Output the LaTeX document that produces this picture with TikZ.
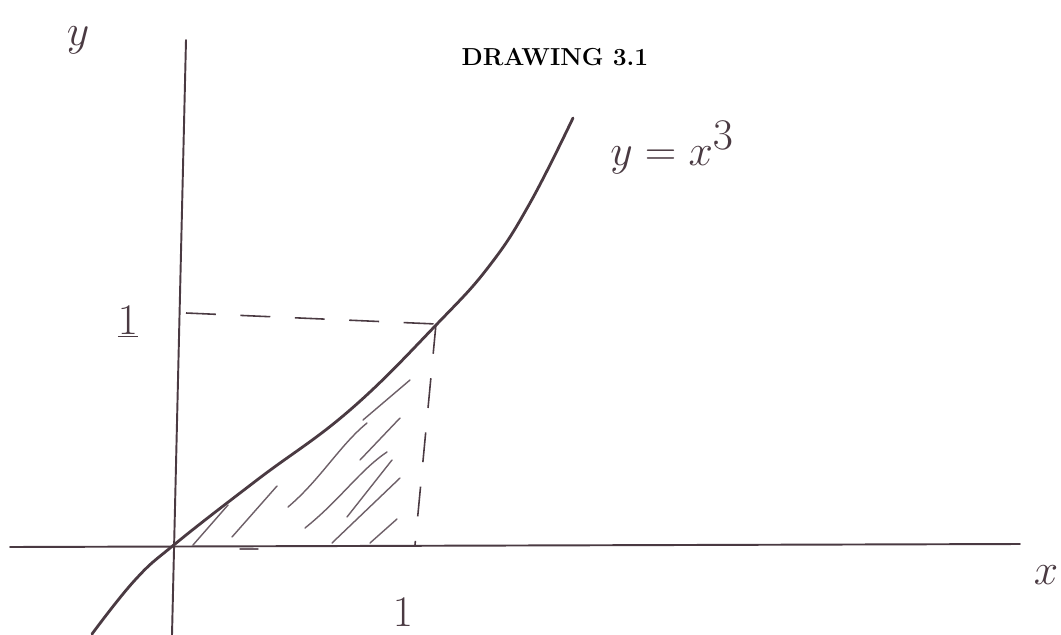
\documentclass[tikz,border=0pt]{standalone}
\usepackage{tikz}
\usetikzlibrary{arrows.meta,calc}
\definecolor{ink}{HTML}{4A3A42}
\definecolor{pencil}{HTML}{6E6068}
\begin{document}
\begin{tikzpicture}[x=0.02cm,y=-0.02cm,
 axis/.style={draw=ink,line width=1.1pt,line cap=round},
 graph/.style={draw=ink,line width=1.6pt,line cap=round},
 hatch/.style={draw=pencil,line width=0.8pt,line cap=round},
 guide/.style={draw=ink,line width=0.9pt,dash pattern=on 17pt off 14pt},
 hand/.style={text=ink,inner sep=0pt,font=\fontsize{34}{34}\selectfont}]
 \useasboundingbox[fill=white] (0,0) rectangle (1061,635);
 % axes
 \draw[axis] (186,40) -- (172,635);
 \draw[axis] (10,547) -- (1020,544);
 % the cubic
 \draw[graph] plot[smooth,tension=0.7] coordinates {(92,634) (135,580) (175,544) (257,480) (350,410) (438,323) (490,265) (530,203) (573,118)};
 % guides to the point (1,1)
 \coordinate (p) at (436,324);
 \draw[guide] (186,313) -- (p);
 \draw[guide] (p) -- (415,545);
 % hatching of the area
 \draw[hatch] (193,545) -- (228,505);
 \draw[hatch] (232,537) -- (277,486);
 \draw[hatch] (288,507) .. controls (320,480) and (340,445) .. (367,423);
 \draw[hatch] (305,528) .. controls (340,500) and (360,470) .. (387,452);
 \draw[hatch] (332,543) -- (400,478);
 \draw[hatch] (347,517) -- (392,460);
 \draw[hatch] (370,543) -- (397,519);
 \draw[hatch] (363,420) -- (410,380);
 \draw[hatch] (360,460) -- (400,418);
 \draw[hatch] (240,549) -- (258,549);
 % labels
 \node[font=\fontsize{14}{16}\selectfont\bfseries] (title) at (555,57) {DRAWING 3.1};
 \node[hand] (ylab) at (78,40) {$y$};
 \node[hand] (xlab) at (1046,575) {$x$};
 \node[hand] (one) at (128,322) {$\underline{1}$};
 \node[hand] (onex) at (403,612) {$1$};
 \node[hand,anchor=west] (curve) at (610,148) {$y=x^3$};
\end{tikzpicture}
\end{document}
